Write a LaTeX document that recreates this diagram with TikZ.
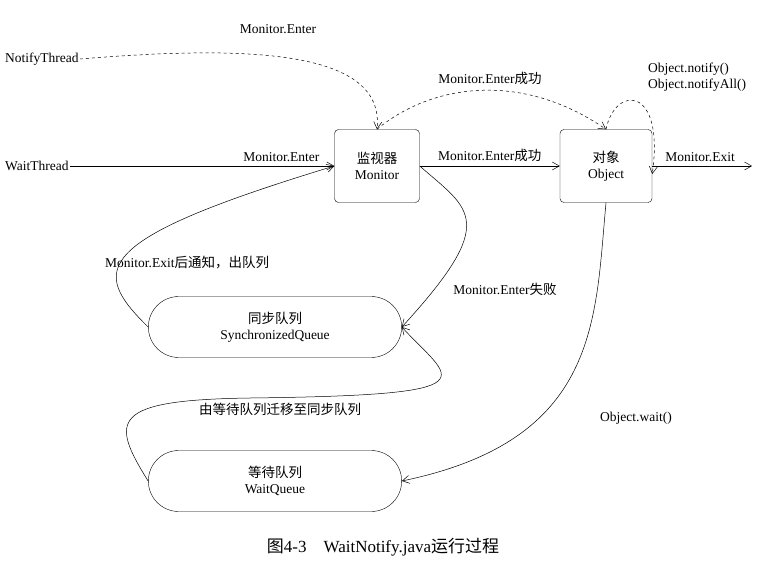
\documentclass[tikz,border=0pt]{standalone}
\usepackage{fontspec}
\setmainfont{Liberation Serif}
\newfontfamily\cjk{Noto Sans CJK SC}
\usetikzlibrary{arrows.meta,shapes.misc}
\begin{document}
\begin{tikzpicture}[x=1pt,y=-1pt,
  every node/.style={font=\fontsize{13.5}{16}\selectfont},
  box/.style={draw,rounded corners=4pt,minimum width=85pt,minimum height=73pt,align=center,inner sep=0pt},
  queue/.style={draw,rounded rectangle,minimum width=260pt,minimum height=61pt,align=center},
  lab/.style={inner sep=1pt},
  con/.style={-{Straight Barb[length=7pt,width=8pt]},line width=0.5pt},
  dcon/.style={con,dashed}]
\useasboundingbox (0,0) rectangle (776,586);
\node[box] (mon) at (377,166) {{\cjk 监视器}\\Monitor};
\node[box,minimum width=92pt] (obj) at (606,166) {{\cjk 对象}\\Object};
\node[queue] (sq) at (275,327) {{\cjk 同步队列}\\SynchronizedQueue};
\node[queue] (wq) at (275,481) {{\cjk 等待队列}\\WaitQueue};
\node[lab,anchor=west] (wt) at (4,166) {WaitThread};
\node[lab,anchor=west] (nt) at (4,59) {NotifyThread};
\coordinate (exitend) at (752,166);
\draw[con] (wt) -- (mon.west) node[lab,pos=0.8,above=3pt] {Monitor.Enter};
\node[lab] at (278,29) {Monitor.Enter};
\draw[dcon] (nt.east) .. controls (250,45) and (385,50) .. (mon.north);
\draw[dcon] (mon.north) .. controls (430,85) and (520,70) .. (obj.north) ;
\node[lab] at (490,78) {Monitor.Enter{\cjk 成功}};
\draw[con] (mon.east) -- (obj.west) node[lab,midway,above=3pt] {Monitor.Enter{\cjk 成功}};
\draw[dcon] (obj.north) .. controls (615,85) and (665,85) .. ([yshift=-8pt]obj.east);
\node[lab,anchor=west,align=left] at (647,77) {Object.notify()\\Object.notifyAll()};
\draw[con] (obj.east) -- (exitend) node[lab,pos=0.48,above=3pt] {Monitor.Exit};
\draw[con] (mon.east) .. controls (470,210) and (500,220) .. (sq.east);
\node[lab] at (505,289) {Monitor.Enter{\cjk 失败}};
\draw[con] (sq.west) .. controls (90,270) and (90,240) .. (mon.west);
\node[lab,anchor=west] at (104,263) {Monitor.Exit{\cjk 后通知，出队列}};
\draw[con] (wq.west) .. controls (110,420) and (110,400) .. (250,398) .. controls (500,395) and (450,380) .. (sq.east);
\node[lab] at (280,409) {\cjk 由等待队列迁移至同步队列};
\draw[con] (obj.south) .. controls (595,320) and (600,440) .. (wq.east);
\node[lab] at (636,418) {Object.wait()};
\node[font=\fontsize{17}{20}\selectfont] at (383,547) {{\cjk 图}4-3\quad WaitNotify.java{\cjk 运行过程}};
\end{tikzpicture}
\end{document}
